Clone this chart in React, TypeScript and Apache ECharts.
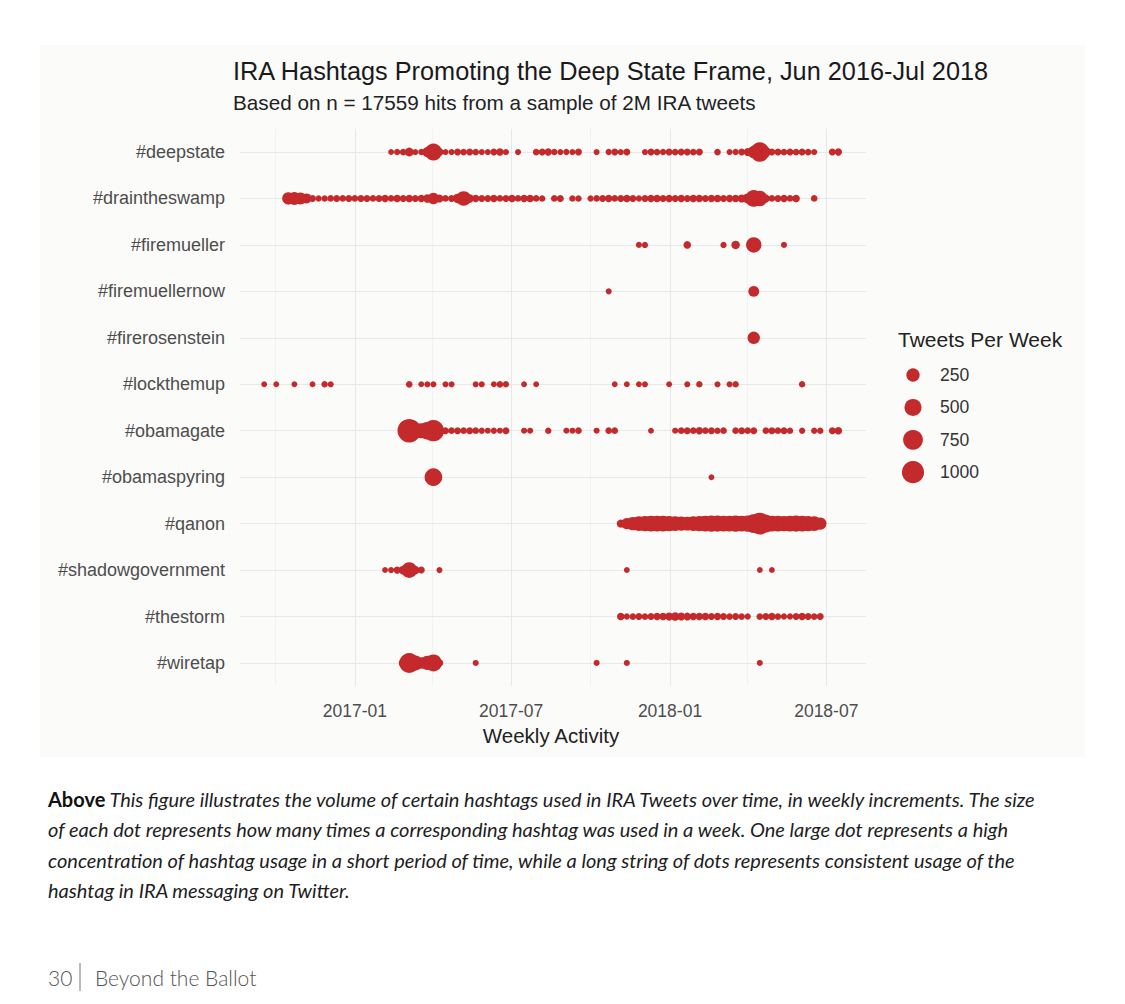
import React, { useEffect, useRef } from 'react';
import * as echarts from 'echarts';

// ---------- data (week index = weeks after the week starting 2017-01-01) ----------
const categories = [
  '#deepstate', '#draintheswamp', '#firemueller', '#firemuellernow', '#firerosenstein', '#lockthemup',
  '#obamagate', '#obamaspyring', '#qanon', '#shadowgovernment', '#thestorm', '#wiretap',
];

const deepstate = [[6,6],[7,10],[8,15],[9,60],[10,8],[11,10],[12,100],[13,500],[14,40],[15,8],[16,8],[17,20],[18,15],[19,20],[20,15],[21,8],[22,8],[23,20],[24,30],[25,8],[27,8],[30,15],[31,20],[32,25],[33,12],[34,8],[35,10],[36,8],[37,20],[40,8],[42,10],[43,20],[44,8],[45,20],[48,8],[49,20],[50,15],[51,10],[52,20],[53,15],[54,20],[55,20],[56,15],[57,20],[60,15],[62,8],[63,10],[64,20],[65,40],[66,200],[67,700],[68,100],[69,20],[70,20],[71,15],[72,20],[73,15],[74,20],[75,15],[76,8],[79,20],[80,25]];
const draintheswamp = [[-11,200],[-10,220],[-9,180],[-8,100],[-7,20],[-6,10],[-5,12],[-4,15],[-3,20],[-2,15],[-1,20],[0,15],[1,20],[2,20],[3,15],[4,20],[5,25],[6,15],[7,30],[8,20],[9,30],[10,20],[11,25],[12,50],[13,160],[14,40],[15,15],[16,20],[17,80],[18,330],[19,50],[20,25],[21,20],[22,20],[23,25],[24,15],[25,20],[26,30],[27,15],[28,25],[29,30],[30,15],[31,12],[33,15],[34,20],[36,12],[37,12],[39,10],[40,15],[41,20],[42,25],[43,15],[44,20],[45,30],[46,20],[47,10],[48,20],[49,25],[50,30],[51,20],[52,25],[53,20],[54,25],[55,20],[56,30],[57,25],[58,20],[59,25],[60,30],[61,20],[62,25],[63,30],[64,40],[65,100],[66,480],[67,380],[68,40],[69,15],[70,20],[71,25],[72,15],[73,30],[76,15]];
const firemueller = [[47,8],[48,10],[55,30],[61,10],[63,50],[66,380],[71,8]];
const firemuellernow = [[42,8],[66,130]];
const firerosenstein = [[66,200]];
const lockthemup = [[-15,6],[-13,6],[-10,6],[-7,6],[-5,12],[-4,8],[9,15],[11,6],[12,8],[13,8],[15,8],[16,8],[20,8],[21,8],[23,6],[24,15],[25,10],[28,6],[30,6],[43,6],[45,6],[47,6],[48,8],[52,6],[55,8],[57,12],[60,8],[62,8],[63,12],[74,12]];
const obamagate = [[8,30],[9,1150],[10,400],[11,350],[12,550],[13,900],[14,80],[15,20],[16,15],[17,20],[18,15],[19,20],[20,15],[21,10],[22,8],[23,10],[24,8],[25,20],[28,8],[29,8],[32,12],[35,8],[36,8],[37,15],[40,8],[42,15],[43,15],[49,6],[53,8],[54,15],[55,20],[56,15],[57,25],[58,15],[59,20],[60,12],[61,15],[63,15],[64,20],[65,15],[66,20],[68,15],[69,20],[70,15],[71,20],[72,12],[74,10],[76,10],[77,12],[79,20],[80,30]];
const obamaspyring = [[13,550],[59,6]];
const qanon = [[44,40],[45,150],[46,250],[47,320],[48,380],[49,400],[50,420],[51,400],[52,380],[53,350],[54,300],[55,280],[56,320],[57,380],[58,420],[59,450],[60,430],[61,400],[62,420],[63,440],[64,400],[65,450],[66,650],[67,950],[68,550],[69,420],[70,400],[71,380],[72,420],[73,430],[74,400],[75,380],[76,330],[77,200]];
const shadowgovernment = [[5,6],[6,8],[7,25],[8,60],[9,400],[10,50],[11,20],[14,8],[45,6],[67,6],[69,6]];
const thestorm = [[44,30],[45,10],[46,15],[47,20],[48,15],[49,20],[50,25],[51,30],[52,45],[53,50],[54,40],[55,35],[56,30],[57,25],[58,30],[59,20],[60,25],[61,20],[62,15],[63,20],[64,15],[65,10],[67,15],[68,20],[69,25],[70,15],[71,10],[72,10],[73,20],[74,25],[75,20],[76,15],[77,20]];
const wiretap = [[8,60],[9,750],[10,350],[11,150],[12,300],[13,500],[14,30],[20,8],[40,8],[45,8],[67,8]];

const tickLabels = ['2017-01', '2017-07', '2018-01', '2018-07'];
const minorTicks = ['2016-10', '2017-04', '2017-10', '2018-04'];
const xRange = ['2016-08-21', '2018-08-16'];
const legendValues = [250, 500, 750, 1000];

const titleText = 'IRA Hashtags Promoting the Deep State Frame, Jun 2016-Jul 2018';
const subtitleText = 'Based on n = 17559 hits from a sample of 2M IRA tweets';
const captionLines = [
  '{b|Above} This figure illustrates the volume of certain hashtags used in IRA Tweets over time, in weekly increments. The size',
  'of each dot represents how many times a corresponding hashtag was used in a week. One large dot represents a high',
  'concentration of hashtag usage in a short period of time, while a long string of dots represents consistent usage of the',
  'hashtag in IRA messaging on Twitter.',
];

// ---------- helpers ----------
const RED = '#c4292b';
const FONT = '"Liberation Sans", Arial, Helvetica, sans-serif';
const CAPFONT = 'Lato, "Noto Sans", sans-serif';
const DAY = 86400000;
const WEEK0 = Date.UTC(2017, 0, 1);
const monthTs = (s: string) => { const [y, m] = s.split('-').map(Number); return Date.UTC(y, m - 1, 1); };
const dayTs = (s: string) => { const [y, m, d] = s.split('-').map(Number); return Date.UTC(y, m - 1, d); };
const dotSize = (v: number) => 4.5 + 0.56 * Math.sqrt(v);

export default function App() {
  const ref = useRef<HTMLDivElement>(null);
  useEffect(() => {
    if (!ref.current) return;
    const chart = echarts.init(ref.current, null, { renderer: 'svg' });
    const byTag = [deepstate, draintheswamp, firemueller, firemuellernow, firerosenstein, lockthemup,
      obamagate, obamaspyring, qanon, shadowgovernment, thestorm, wiretap];
    const points: number[][] = [];
    byTag.forEach((rows, ci) => rows.forEach(([w, c]) => points.push([WEEK0 + w * 7 * DAY, ci, c])));

    const gridLineData: any[] = [
      ...tickLabels.map((t) => ({ xAxis: monthTs(t) })),
      ...minorTicks.map((t) => ({ xAxis: monthTs(t), lineStyle: { width: 0.6, color: '#ececec' } })),
      ...categories.map((c) => ({ yAxis: c })),
    ];

    const legendEls: any[] = [
      { type: 'text', x: 898, y: 339, style: { text: 'Tweets Per Week', fontSize: 21, fontFamily: FONT, fill: '#222', align: 'left', verticalAlign: 'middle' } },
    ];
    legendValues.forEach((v, i) => {
      const cy = 375 + i * 32.4;
      legendEls.push({ type: 'circle', shape: { cx: 913, cy, r: dotSize(v) / 2 }, style: { fill: RED } });
      legendEls.push({ type: 'text', x: 940, y: cy, style: { text: String(v), fontSize: 17.5, fontFamily: FONT, fill: '#333', align: 'left', verticalAlign: 'middle' } });
    });

    const captionEls = captionLines.map((line, i) => ({
      type: 'text', x: 48, y: 799 + i * 30.3,
      style: {
        text: line, fontSize: 20, fontFamily: CAPFONT, fontStyle: 'italic', fill: '#1e1e1e', align: 'left', verticalAlign: 'middle',
        rich: { b: { fontSize: 20, fontFamily: CAPFONT, fontWeight: 'bold', fontStyle: 'normal', fill: '#111' } },
      },
    }));

    const option: any = {
      animation: false,
      backgroundColor: '#ffffff',
      textStyle: { fontFamily: FONT },
      grid: { left: 240, right: 259, top: 128.8, bottom: 317.8, containLabel: false, outerBoundsMode: 'none' },
      xAxis: {
        type: 'value', min: dayTs(xRange[0]), max: dayTs(xRange[1]),
        axisLine: { show: false }, axisTick: { show: false }, splitLine: { show: false },
        axisLabel: {
          customValues: tickLabels.map(monthTs),
          formatter: (v: number) => { const d = new Date(v); return `${d.getUTCFullYear()}-${String(d.getUTCMonth() + 1).padStart(2, '0')}`; },
          fontSize: 17.5, color: '#4d4d4d', margin: 16, fontFamily: FONT,
        },
      },
      yAxis: {
        type: 'category', data: categories, inverse: true,
        axisLine: { show: false }, axisTick: { show: false }, splitLine: { show: false },
        axisLabel: { interval: 0, fontSize: 18, color: '#4d4d4d', margin: 15, fontFamily: FONT },
      },
      series: [
        {
          type: 'line', data: [], silent: true, z: 0,
          markLine: {
            z: 0, silent: true, symbol: ['none', 'none'], label: { show: false }, emphasis: { disabled: true },
            lineStyle: { color: '#e8e8e8', width: 1, type: 'solid' }, data: gridLineData,
          },
        },
        {
          type: 'scatter', data: points, symbol: 'circle', z: 5, silent: true,
          symbolSize: (val: number[]) => dotSize(val[2]),
          itemStyle: { color: RED, opacity: 1 },
        },
      ],
      graphic: {
        elements: [
          { type: 'rect', z: -10, shape: { x: 40, y: 45, width: 1045, height: 712 }, style: { fill: '#fbfbfa' }, silent: true },
          { type: 'text', x: 233, y: 71, style: { text: titleText, fontSize: 25.3, fontFamily: FONT, fill: '#1a1a1a', align: 'left', verticalAlign: 'middle' } },
          { type: 'text', x: 233, y: 102, style: { text: subtitleText, fontSize: 20.7, fontFamily: FONT, fill: '#222', align: 'left', verticalAlign: 'middle' } },
          { type: 'text', x: 551, y: 735, style: { text: 'Weekly Activity', fontSize: 20.5, fontFamily: FONT, fill: '#222', align: 'center', verticalAlign: 'middle' } },
          ...legendEls,
          ...captionEls,
          { type: 'text', x: 48, y: 977, style: { text: '30', fontSize: 21, fontFamily: CAPFONT, fontWeight: 300, fill: '#555', align: 'left', verticalAlign: 'middle' } },
          { type: 'line', shape: { x1: 80, y1: 963, x2: 80, y2: 991 }, style: { stroke: '#777', lineWidth: 1 } },
          { type: 'text', x: 95, y: 977, style: { text: 'Beyond the Ballot', fontSize: 21, fontFamily: CAPFONT, fontWeight: 300, fill: '#555', align: 'left', verticalAlign: 'middle' } },
        ],
      },
    };
    chart.setOption(option);
    return () => chart.dispose();
  }, []);
  return <div ref={ref} style={{ position: 'absolute', left: 0, top: 0, width: 1125, height: 1004 }} />;
}
